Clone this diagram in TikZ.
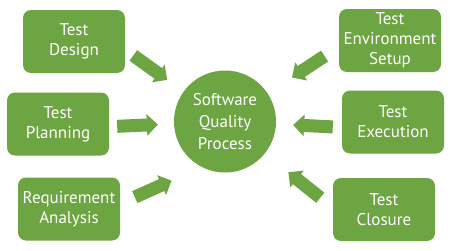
\documentclass[tikz,border=0pt]{standalone}
\usepackage{fontspec}
\setmainfont{PT Sans}
\usepackage{tikz}
\usetikzlibrary{arrows.meta}
\definecolor{qgreen}{RGB}{108,165,66}

\begin{document}
\begin{tikzpicture}[x=1pt, y=1pt, line join=round,
  stage/.style={fill=qgreen, text=white, rounded corners=8pt, minimum width=102pt,
    minimum height=63pt, inner sep=0pt, align=center, font=\fontsize{17}{20}\selectfont},
  hub/.style={circle, fill=qgreen, text=white, minimum size=102pt, inner sep=0pt,
    align=center, font=\fontsize{17}{22}\selectfont},
  flow/.style={draw=qgreen, line width=13pt, -{Triangle[width=21pt,length=11pt]}}]
\useasboundingbox (0,0) rectangle (450,250);
\node[hub] (sqp) at (225,128.5) {Software\\Quality\\Process};
\node[stage] (design) at (74,208.5) {Test\\Design};
\node[stage] (planning) at (58,126) {Test\\Planning};
\node[stage] (requirement) at (69,41) {Requirement\\Analysis};
\node[stage] (env) at (390,209.5) {Test\\Environment\\Setup};
\node[stage] (exec) at (393,128) {Test\\Execution};
\node[stage] (closure) at (384,40.5) {Test\\Closure};
\draw[flow, shorten <=10pt, shorten >=20pt] (design.-9) -- (sqp);
\draw[flow, shorten <=8pt, shorten >=16pt] (planning.-3) -- (sqp);
\draw[flow, shorten <=16pt, shorten >=33pt] (requirement.6) -- (sqp.243);
\draw[flow, shorten <=17pt, shorten >=29pt] (env.187) -- (sqp);
\draw[flow, shorten <=9pt, shorten >=17pt] (exec.186) -- (sqp);
\draw[flow, shorten <=16pt, shorten >=30pt] (closure.178) -- (sqp);
\end{tikzpicture}
\end{document}
